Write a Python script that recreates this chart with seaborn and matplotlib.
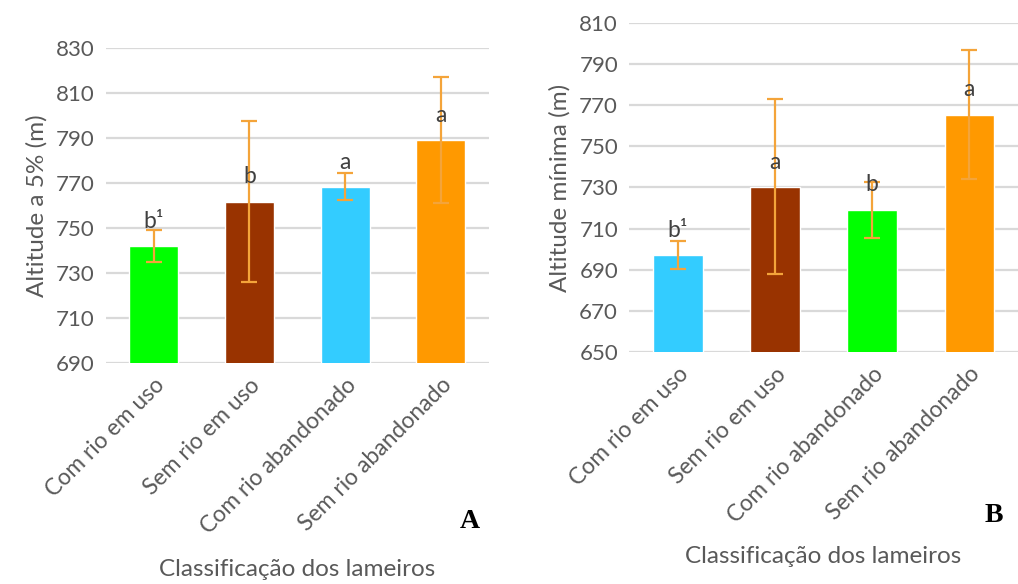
import numpy as np
import pandas as pd
import matplotlib.pyplot as plt
import seaborn as sns

sns.set_style('white')
plt.rcParams['font.family'] = ['Lato', 'DejaVu Sans']

# Panel A data
cats_a = ['Com rio em uso', 'Sem rio em uso', 'Com rio abandonado', 'Sem rio abandonado']
mean_a = [742.1, 761.7, 768.3, 789.2]
err_a = [7.0, 35.8, 6.0, 28.0]
letters_a = ['b¹', 'b', 'a', 'a']
colors_a = ['#00FF00', '#993300', '#33CCFF', '#FF9900']

# Panel B data
cats_b = ['Com rio em uso', 'Sem rio em uso', 'Com rio abandonado', 'Sem rio abandonado']
mean_b = [697.2, 730.3, 719.2, 765.4]
err_b = [6.6, 42.5, 13.6, 31.3]
letters_b = ['b¹', 'a', 'b', 'a']
colors_b = ['#33CCFF', '#993300', '#00FF00', '#FF9900']

text_col = '#595959'
grid_col = '#D9D9D9'
err_col = '#F4A43A'

fig = plt.figure(figsize=(10.18, 5.84), dpi=100)
ax_a = fig.add_axes([0.104, 0.378, 0.376, 0.540])
ax_b = fig.add_axes([0.618, 0.397, 0.382, 0.564])


def draw_panel(ax, cats, means, errs, letters, colors, ylim, ylabel, offset, xpad):
    df = pd.DataFrame({'cat': cats, 'val': means})
    sns.barplot(data=df, x='cat', y='val', hue='cat', palette=colors,
                legend=False, width=0.51, saturation=1, ax=ax, zorder=2)
    ax.errorbar(np.arange(len(cats)), means, yerr=errs, fmt='none',
                ecolor=err_col, elinewidth=1.6, capsize=5.5, capthick=1.6, zorder=3)
    for i, (m, lab) in enumerate(zip(means, letters)):
        ax.text(i, m + offset, lab, ha='center', va='center', fontsize=16.5,
                color='#404040', zorder=4)
    ax.set_ylim(*ylim)
    ax.set_xlim(-0.5, len(cats) - 0.5)
    ax.set_yticks(np.arange(ylim[0], ylim[1] + 1, 20))
    ax.yaxis.grid(True, color=grid_col, linewidth=1.6, zorder=0)
    ax.set_axisbelow(True)
    for s in ax.spines.values():
        s.set_visible(False)
    ax.tick_params(axis='y', length=0, labelsize=16, colors=text_col, pad=8)
    ax.tick_params(axis='x', length=0, labelsize=16.5, colors=text_col, pad=8)
    ax.set_xticks(range(len(cats)))
    ax.set_xticklabels(cats, rotation=45, ha='right', rotation_mode='anchor')
    ax.set_ylabel(ylabel, fontsize=17.5, color=text_col, labelpad=6)
    ax.set_xlabel('Classificação dos lameiros', fontsize=17.5, color=text_col,
                  labelpad=xpad)


draw_panel(ax_a, cats_a, mean_a, err_a, letters_a, colors_a, (690, 830),
           'Altitude a 5% (m)', 11, 15)
draw_panel(ax_b, cats_b, mean_b, err_b, letters_b, colors_b, (650, 810),
           'Altitude mínima (m)', 12, 14)

fig.text(470 / 1018, 1 - 521 / 584, 'A', fontsize=20, fontweight='bold',
         family='Liberation Serif', ha='center', va='center', color='black')
fig.text(994 / 1018, 1 - 516 / 584, 'B', fontsize=20, fontweight='bold',
         family='Liberation Serif', ha='center', va='center', color='black')

fig.savefig('out.png', dpi=100)
